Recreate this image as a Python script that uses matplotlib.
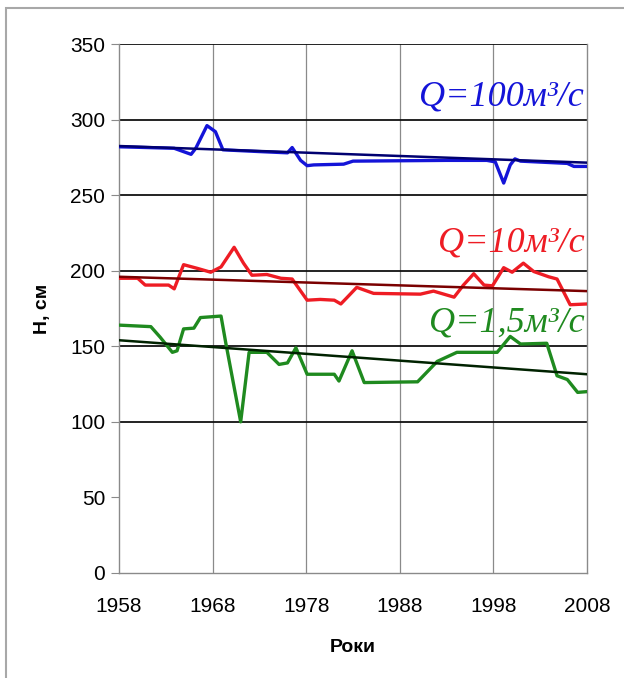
import matplotlib.pyplot as plt
from matplotlib.patches import Rectangle

# water level at Q = 100 m3/s
years_100 = [1958, 1963.9, 1965.7, 1966.2, 1967.4, 1968.3, 1969.1, 1972.4, 1976.0, 1976.5,
             1977.4, 1978.1, 1978.8, 1982.0, 1983.0, 1993.0, 1997.3, 1998.2, 1999.1, 1999.8,
             2000.3, 2000.9, 2005.9, 2006.6, 2008]
h_100 = [282, 281, 277, 281, 296, 292, 280, 279, 278, 281.5,
         273, 269.5, 270, 270.5, 272.5, 273, 273, 272, 258, 270,
         274, 272.5, 271, 269, 269]

# water level at Q = 10 m3/s
years_10 = [1958, 1960.0, 1960.8, 1963.3, 1963.9, 1964.9, 1966.4, 1967.8, 1968.9, 1970.3,
            1971.3, 1972.2, 1973.8, 1975.3, 1976.5, 1978.1, 1979.5, 1981.0, 1981.7, 1982.4,
            1983.4, 1985.2, 1990.2, 1991.6, 1993.8, 1994.8, 1995.9, 1997.0, 1997.9, 1999.1,
            2000.0, 2001.2, 2002.3, 2003.9, 2004.8, 2006.2, 2008]
h_10 = [195, 195, 190.5, 190.5, 188, 204, 201.5, 199, 202.5, 215.5,
        205, 197, 197.5, 195, 194.5, 180.5, 181, 180.5, 178, 182.5,
        189, 185, 184.5, 186.5, 182.5, 190.5, 198, 190.5, 190, 202,
        199, 205, 199.5, 196, 194.5, 177.5, 178]

# water level at Q = 1.5 m3/s
years_15 = [1958, 1961.4, 1962.4, 1963.7, 1964.2, 1964.9, 1966.0, 1966.7, 1968.9, 1969.4,
            1971.0, 1971.9, 1973.8, 1975.1, 1976.0, 1976.9, 1978.1, 1981.0, 1981.5, 1982.9,
            1984.2, 1989.9, 1992.0, 1994.1, 1998.4, 1999.8, 2000.9, 2003.7, 2004.8, 2005.9,
            2007.0, 2008]
h_15 = [164, 163, 156, 146, 147, 161.5, 162, 169, 170, 152.5,
        100, 146, 146, 138, 139, 149, 131.5, 131.5, 127, 147,
        126, 126.5, 140, 146, 146, 156.5, 151.5, 152, 130.5, 128,
        119.5, 120]

# linear trends (start, end)
trend_years = [1958, 2008]
trend_100 = [282.5, 271.5]
trend_10 = [196, 186.5]
trend_15 = [154, 131.5]

labels = ['Q=100м³/с', 'Q=10м³/с', 'Q=1,5м³/с']
label_y = [309.5, 212.5, 159.5]

fig = plt.figure(figsize=(6.24, 6.78), dpi=100)
ax = fig.add_axes([119 / 624, 1 - 573 / 678, (587 - 119) / 624, (573 - 44) / 678])

ax.plot(years_100, h_100, color='#1414d8', lw=2.4, zorder=3, solid_joinstyle='round')
ax.plot(trend_years, trend_100, color='#000070', lw=1.8, zorder=4)
ax.plot(years_10, h_10, color='#ee1c24', lw=2.4, zorder=3, solid_joinstyle='round')
ax.plot(trend_years, trend_10, color='#7a0000', lw=1.8, zorder=4)
ax.plot(years_15, h_15, color='#1f8a1f', lw=2.4, zorder=3, solid_joinstyle='round')
ax.plot(trend_years, trend_15, color='#002200', lw=1.8, zorder=4)

label_colors = ['#1414d8', '#ee1c24', '#1f8a1f']
for txt, yv, c in zip(labels, label_y, label_colors):
    ax.text(2007.7, yv, txt, color=c, fontsize=26, style='italic',
            family='Liberation Serif', ha='right', va='baseline', zorder=5)

ax.set_xlim(1958, 2008)
ax.set_ylim(0, 350)
ax.set_xticks(range(1958, 2009, 10))
ax.set_yticks(range(0, 351, 50))

for yv in range(100, 351, 50):
    ax.axhline(yv, color='#111111', lw=1.3, zorder=2)
for xv in range(1968, 2008, 10):
    ax.axvline(xv, color='#8a8a8a', lw=0.9, zorder=1)

for side in ['left', 'bottom', 'right']:
    ax.spines[side].set_color('#8a8a8a')
    ax.spines[side].set_linewidth(1.0)
ax.spines['top'].set_visible(False)

ax.tick_params(axis='y', length=6, color='#8a8a8a', labelsize=15, pad=4)
ax.tick_params(axis='x', length=0, labelsize=15, pad=17)
for lab in ax.get_xticklabels() + ax.get_yticklabels():
    lab.set_family('Liberation Sans')

ax.set_xlabel('Роки', fontsize=14, fontweight='bold', family='Liberation Sans', labelpad=17)
ax.set_ylabel('H, см', fontsize=14, fontweight='bold', family='Liberation Sans', labelpad=14)

# outer border of the figure panel
fig.patches.append(Rectangle((6 / 624, -0.1), 2, 1 - 8 / 678 + 0.1, transform=fig.transFigure,
                             fill=False, edgecolor='#a8a8a8', lw=1.5))

fig.savefig('out.png', dpi=100)
